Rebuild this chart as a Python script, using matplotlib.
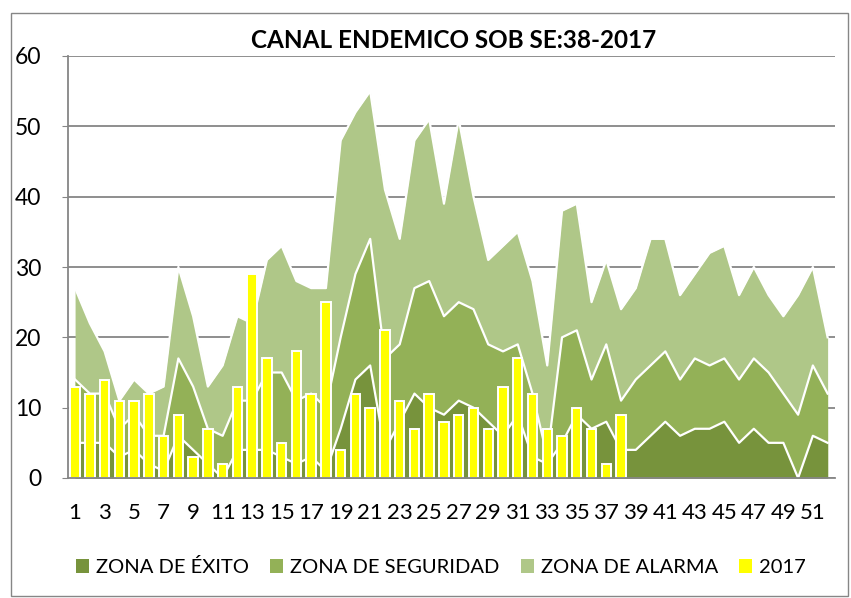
import matplotlib
matplotlib.use("Agg")
import matplotlib.pyplot as plt
from matplotlib.patches import Rectangle, Patch
import numpy as np

weeks = list(range(1, 53))

zona_alarma = [27, 22, 18, 11, 14, 12, 13, 30, 23, 13, 16, 23, 22, 31, 33, 28, 27, 27,
               48, 52, 55, 41, 34, 48, 51, 39, 51, 40, 31, 33, 35, 28, 16, 38, 39, 25,
               31, 24, 27, 34, 34, 26, 29, 32, 33, 26, 30, 26, 23, 26, 30, 20]

zona_seguridad = [14, 12, 12, 7, 9, 6, 6, 17, 13, 7, 6, 11, 11, 15, 15, 11, 12, 10,
                  20, 29, 34, 17, 19, 27, 28, 23, 25, 24, 19, 18, 19, 12, 3, 20, 21, 14,
                  19, 11, 14, 16, 18, 14, 17, 16, 17, 14, 17, 15, 12, 9, 16, 12]

zona_exito = [5, 5, 5, 3, 4, 2, 1, 6, 4, 2, 0, 4, 4, 4, 3, 2, 3, 1,
              7, 14, 16, 4, 8, 12, 10, 9, 11, 10, 8, 6, 9, 3, 2, 5, 9, 7,
              8, 4, 4, 6, 8, 6, 7, 7, 8, 5, 7, 5, 5, 0, 6, 5]

casos_2017 = [13, 12, 14, 11, 11, 12, 6, 9, 3, 7, 2, 13, 29, 17, 5, 18, 12, 25, 4,
              12, 10, 21, 11, 7, 12, 8, 9, 10, 7, 13, 17, 12, 7, 6, 10, 7, 2, 9]
weeks_2017 = list(range(1, len(casos_2017) + 1))

x_tick_labels = [str(w) for w in range(1, 52, 2)]

titulo = "CANAL ENDEMICO SOB SE:38-2017"
labels = ["ZONA DE ÉXITO", "ZONA DE SEGURIDAD", "ZONA DE ALARMA", "2017"]

c_alarma = "#AFC788"
c_seg = "#93B157"
c_exito = "#77933C"
c_bar = "#FFFF00"
grid_c = "#868686"

plt.rcParams['font.family'] = ['Lato', 'DejaVu Sans']

fig = plt.figure(figsize=(8.51, 5.98), dpi=100)
W, H = 851, 598
ax = fig.add_axes([67.7 / W, 1 - 478 / H, (835 - 67.7) / W, (478 - 56) / H])

ax.fill_between(weeks, 0, zona_alarma, color=c_alarma, lw=0, zorder=2)
ax.plot(weeks, zona_alarma, color="white", lw=1.6, zorder=2.1)
ax.fill_between(weeks, 0, zona_seguridad, color=c_seg, lw=0, zorder=2.2)
ax.plot(weeks, zona_seguridad, color="white", lw=1.6, zorder=2.3)
ax.fill_between(weeks, 0, zona_exito, color=c_exito, lw=0, zorder=2.4)
ax.plot(weeks, zona_exito, color="white", lw=1.6, zorder=2.5)

ax.bar(weeks_2017, casos_2017, width=0.64, color=c_bar, edgecolor="white",
       linewidth=1.4, zorder=3)

ax.set_xlim(0.5, 52.5)
ax.set_ylim(0, 60)
ax.set_yticks(range(0, 61, 10))
ax.set_xticks(range(1, 52, 2))
ax.set_xticklabels(x_tick_labels)

ax.yaxis.grid(True, color=grid_c, lw=1.3, zorder=1)
ax.set_axisbelow(True)
for s in ["top", "right"]:
    ax.spines[s].set_visible(False)
for s in ["left", "bottom"]:
    ax.spines[s].set_color(grid_c)
    ax.spines[s].set_linewidth(1.3)
ax.spines["bottom"].set_zorder(4)

ax.tick_params(axis="y", length=4, color=grid_c, pad=15, labelsize=16.5)
ax.tick_params(axis="x", length=0, pad=18, labelsize=16)

fig.text(454 / W, 1 - 40 / H, titulo, ha="center", va="center",
         fontsize=17.5, fontweight="bold")

handles = [Patch(facecolor=c_exito), Patch(facecolor=c_seg),
           Patch(facecolor=c_alarma), Patch(facecolor=c_bar)]
fig.legend(handles, labels, loc="center", bbox_to_anchor=(441 / W, 1 - 567 / H),
           ncol=4, frameon=False, fontsize=14.5, handlelength=0.65,
           handleheight=0.65, handletextpad=0.35, columnspacing=1.05)

fig.add_artist(Rectangle((11 / W, 2 / H), (848 - 11) / W, (596 - 13) / H,
                         transform=fig.transFigure, fill=False,
                         edgecolor=grid_c, lw=1.0))

fig.savefig("out.png", dpi=100)
